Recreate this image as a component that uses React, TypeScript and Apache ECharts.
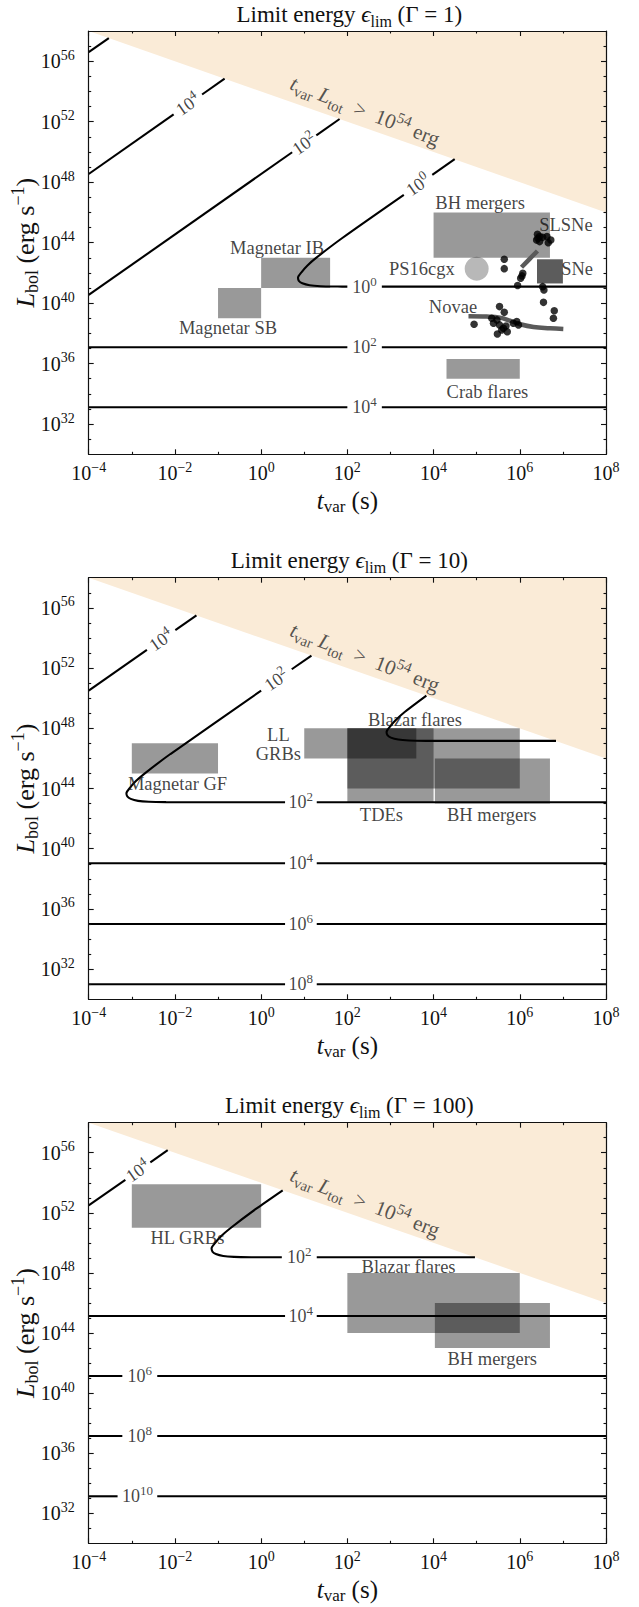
import React, { useEffect, useRef } from "react";
import * as echarts from "echarts";

const FONT = "Liberation Serif, DejaVu Serif, serif";
const INK = "#111111";

// ---- axis extents (log10 of t_var [s] and of L_bol [erg/s]) ----
const T_MIN = -4;
const T_MAX = 8;
const L_MIN = 30;
const L_MAX = 58;
const xMajor = [-4, -2, 0, 2, 4, 6, 8];
const xMinor = [-3, -1, 1, 3, 5, 7];
const yMajor = [32, 36, 40, 44, 48, 52, 56];
const yMinor = [31, 33, 34, 35, 37, 38, 39, 41, 42, 43, 45, 46, 47, 49, 50, 51, 53, 54, 55, 57];

const gammaValues = ["1", "10", "100"];

// forbidden region t_var * L_tot > 1e54 erg
const boundaryT = [-4, 8];
const boundaryL = [58, 46];
const boundaryTextPos = [2.41, 52.7];

// ---- panel 1 (Gamma = 1) ----
const p1Boxes = [
  [-1, 0, 39, 41], // Magnetar SB
  [0, 1.6, 41, 43], // Magnetar IB
  [4, 6.7, 43, 46], // BH mergers
  [6.4, 7, 41.3, 42.9], // SNe
  [4.3, 6, 35, 36.3], // Crab flares
];
const p1BoxDark = [false, false, false, true, false];
const p1Contours = [
  [[-4, 56.6], [-3.533, 57.53]],
  [[-4, 48.54], [-2.03, 52.48]],
  [[-1.37, 53.8], [-0.847, 54.85]],
  [[-4, 40.54], [0.72, 49.98]],
  [[1.28, 51.1], [1.82, 52.18]],
  [[3.97, 48.48], [4.49, 49.52]],
  [[3.31, 47.16], [1.875, 44.29], [1.275, 42.99], [1.075, 42.49], [0.935, 42.04], [0.855, 41.69], [0.875, 41.47], [0.955, 41.31], [1.125, 41.18], [1.375, 41.12], [1.775, 41.095], [2.0, 41.09]],
  [[2.8, 41.09], [8, 41.09]],
  [[-4, 37.08], [2.0, 37.08]],
  [[2.8, 37.08], [8, 37.08]],
  [[-4, 33.11], [2.0, 33.11]],
  [[2.8, 33.11], [8, 33.11]],
];
const p1ContourLabels: [number, number, string, boolean][] = [
  [-1.7, 53.14, "4", true],
  [1.0, 50.54, "2", true],
  [3.64, 47.82, "0", true],
  [2.4, 41.09, "0", false],
  [2.4, 37.08, "2", false],
  [2.4, 33.11, "4", false],
];
const p1Names: [string, number, number][] = [
  ["BH mergers", 5.08, 46.6],
  ["SLSNe", 7.07, 45.17],
  ["SNe", 7.33, 42.26],
  ["PS16cgx", 3.73, 42.24],
  ["Novae", 4.45, 39.77],
  ["Crab flares", 5.25, 34.12],
  ["Magnetar IB", 0.37, 43.63],
  ["Magnetar SB", -0.77, 38.34],
];
const ps16cgx = [5.0, 42.28];
const dotT = [6.41, 6.46, 6.39, 6.53, 6.63, 6.72, 6.66, 6.46, 6.42, 5.64, 5.64, 6.07, 6.05, 6.02, 5.95, 6.53, 6.56, 6.55, 6.8, 6.78, 5.53, 5.64, 5.35, 5.47, 5.39, 5.53, 5.62, 5.68, 5.58, 5.48, 5.71, 4.94, 5.85, 5.97, 5.93];
const dotL = [44.55, 44.4, 44.18, 44.35, 44.4, 44.18, 44.0, 44.07, 44.29, 42.9, 42.28, 41.97, 41.8, 41.64, 41.16, 41.09, 40.87, 40.05, 39.5, 39.0, 39.77, 39.39, 39.0, 38.89, 38.67, 38.56, 38.34, 38.49, 38.22, 37.96, 38.11, 38.6, 38.67, 38.56, 38.78];
const slsneTrackT = [6.04, 6.23, 6.41];
const slsneTrackL = [42.37, 42.93, 43.45];
const novaTrackT = [4.81, 5.23, 5.54, 5.77, 6.01, 6.32, 6.7, 7.01];
const novaTrackL = [39.13, 39.11, 39.04, 38.84, 38.6, 38.42, 38.34, 38.29];

// ---- panel 2 (Gamma = 10) ----
const p2Boxes = [
  [-3, -1, 45, 47], // Magnetar GF
  [1, 3.6, 46, 48], // LL GRBs
  [2, 4, 43.1, 48], // TDEs
  [2, 6, 44, 48], // Blazar flares
  [4.03, 6.7, 43, 46], // BH mergers
];
const p2BoxDark = [false, false, false, false, false];
const p2Contours = [
  [[-4, 50.5], [-2.65, 53.2]],
  [[-1.99, 54.52], [-1.5, 55.5]],
  [[1.167, 52.83], [0.71, 51.92]],
  [[0.0, 50.5], [-2.105, 46.29], [-2.705, 44.99], [-2.905, 44.49], [-3.045, 44.04], [-3.125, 43.69], [-3.105, 43.47], [-3.025, 43.31], [-2.855, 43.18], [-2.605, 43.12], [-2.205, 43.095], [-1.705, 43.09], [0.555, 43.09]],
  [[1.29, 43.09], [8, 43.09]],
  [[3.833, 50.17], [3.33, 49.08], [3.13, 48.56], [2.99, 48.11], [2.91, 47.76], [2.93, 47.54], [3.01, 47.38], [3.18, 47.25], [3.43, 47.19], [3.83, 47.165], [4.33, 47.16], [6.84, 47.16]],
  [[-4, 39.04], [0.555, 39.04]],
  [[1.29, 39.04], [8, 39.04]],
  [[-4, 35.0], [0.555, 35.0]],
  [[1.29, 35.0], [8, 35.0]],
  [[-4, 31.0], [0.555, 31.0]],
  [[1.29, 31.0], [8, 31.0]],
];
const p2ContourLabels: [number, number, string, boolean][] = [
  [-2.32, 53.86, "4", true],
  [0.355, 51.21, "2", true],
  [0.92, 43.09, "2", false],
  [0.92, 39.04, "4", false],
  [0.92, 35.0, "6", false],
  [0.92, 31.0, "8", false],
];
const p2Names: [string, number, number][] = [
  ["Magnetar GF", -1.94, 44.3],
  ["LL\nGRBs", 0.4, 46.95],
  ["Blazar flares", 3.57, 48.55],
  ["TDEs", 2.79, 42.24],
  ["BH mergers", 5.35, 42.24],
];

// ---- panel 3 (Gamma = 100) ----
const p3Boxes = [
  [-3, 0, 51, 53.9], // HL GRBs
  [2, 6, 44, 48], // Blazar flares
  [4.03, 6.7, 43, 46], // BH mergers
];
const p3BoxDark = [false, false, false];
const p3Contours = [
  [[-4, 52.5], [-3.15, 54.2]],
  [[-2.57, 55.36], [-2.167, 56.17]],
  [[0.5, 53.5], [-0.13, 52.24], [-0.73, 50.94], [-0.93, 50.44], [-1.07, 49.99], [-1.15, 49.64], [-1.13, 49.42], [-1.05, 49.26], [-0.88, 49.13], [-0.63, 49.07], [-0.23, 49.045], [0.27, 49.04], [0.48, 49.04]],
  [[1.29, 49.04], [4.96, 49.04]],
  [[-4, 45.13], [0.555, 45.13]],
  [[1.29, 45.13], [8, 45.13]],
  [[-4, 41.14], [-3.22, 41.14]],
  [[-2.41, 41.14], [8, 41.14]],
  [[-4, 37.14], [-3.22, 37.14]],
  [[-2.41, 37.14], [8, 37.14]],
  [[-4, 33.13], [-3.33, 33.13]],
  [[-2.41, 33.13], [8, 33.13]],
];
const p3ContourLabels: [number, number, string, boolean][] = [
  [-2.86, 54.78, "4", true],
  [0.885, 49.04, "2", false],
  [0.92, 45.13, "4", false],
  [-2.815, 41.14, "6", false],
  [-2.815, 37.14, "8", false],
  [-2.87, 33.13, "10", false],
];
const p3Names: [string, number, number][] = [
  ["HL GRBs", -1.71, 50.3],
  ["Blazar flares", 3.42, 48.41],
  ["BH mergers", 5.36, 42.25],
];

// ---- layout ----
const LEFT = 88.7;
const WIDTH = 517.3;
const LAYOUT = [
  { top: 31, height: 423.3 },
  { top: 577.7, height: 421.6 },
  { top: 1122.7, height: 420.6 },
];

const expStr = (v: number) => (v < 0 ? "\u2212" + Math.abs(v) : String(v));

const tickRich = {
  b: { fontFamily: FONT, fontSize: 20, lineHeight: 26, color: INK },
  s: { fontFamily: FONT, fontSize: 14, lineHeight: 14, verticalAlign: "top", color: INK },
};
const clRich = {
  b: { fontFamily: FONT, fontSize: 18, lineHeight: 24, color: INK },
  s: { fontFamily: FONT, fontSize: 13, lineHeight: 13, verticalAlign: "top", color: INK },
};
const boundaryRich = {
  i: { fontFamily: FONT, fontSize: 21, fontStyle: "italic", lineHeight: 28, color: "#2a2a2a" },
  n: { fontFamily: FONT, fontSize: 21, lineHeight: 28, color: "#2a2a2a" },
  sb: { fontFamily: FONT, fontSize: 15, lineHeight: 15, verticalAlign: "bottom", color: "#2a2a2a" },
  sp: { fontFamily: FONT, fontSize: 15, lineHeight: 15, verticalAlign: "top", color: "#2a2a2a" },
};

function buildAxes(g: number) {
  const base = {
    gridIndex: g,
    type: "value",
    splitLine: { show: false },
    minorSplitLine: { show: false },
    z: 10,
  };
  const lineOn = { show: true, onZero: false, lineStyle: { color: INK, width: 1.2 } };
  const lineOff = { show: false, onZero: false };
  const tick = (vals: number[], len: number) => ({
    show: true,
    inside: true,
    length: len,
    customValues: vals,
    lineStyle: { color: INK, width: 1.1 },
  });
  const xs = [
    {
      ...base, min: T_MIN, max: T_MAX, position: "bottom", axisLine: lineOn, axisTick: tick(xMajor, 5),
      axisLabel: {
        show: true, customValues: xMajor, margin: 6, rich: tickRich,
        formatter: (v: number) => `{b|10}{s|${expStr(Math.round(v))}}`,
      },
    },
    { ...base, min: T_MIN, max: T_MAX, position: "bottom", axisLine: lineOff, axisTick: tick(xMinor, 2.5), axisLabel: { show: false } },
    { ...base, min: T_MIN, max: T_MAX, position: "top", axisLine: lineOn, axisTick: tick(xMajor, 5), axisLabel: { show: false } },
    { ...base, min: T_MIN, max: T_MAX, position: "top", axisLine: lineOff, axisTick: tick(xMinor, 2.5), axisLabel: { show: false } },
  ];
  const ys = [
    {
      ...base, min: L_MIN, max: L_MAX, position: "left", axisLine: lineOn, axisTick: tick(yMajor, 5),
      axisLabel: {
        show: true, customValues: yMajor, margin: 14, rich: tickRich,
        formatter: (v: number) => `{b|10}{s|${expStr(Math.round(v))}}`,
      },
    },
    { ...base, min: L_MIN, max: L_MAX, position: "left", axisLine: lineOff, axisTick: tick(yMinor, 2.5), axisLabel: { show: false } },
    { ...base, min: L_MIN, max: L_MAX, position: "right", axisLine: lineOn, axisTick: tick(yMajor, 5), axisLabel: { show: false } },
    { ...base, min: L_MIN, max: L_MAX, position: "right", axisLine: lineOff, axisTick: tick(yMinor, 2.5), axisLabel: { show: false } },
  ];
  return { xs, ys };
}

function buildSeries(g: number, boxes: number[][], dark: boolean[], contours: number[][][], clabels: [number, number, string, boolean][], names: [string, number, number][]) {
  const idx = { xAxisIndex: g * 4, yAxisIndex: g * 4 };
  const lay = LAYOUT[g];
  const pxT = WIDTH / (T_MAX - T_MIN);
  const pxL = lay.height / (L_MAX - L_MIN);
  const diagAngle = (Math.atan((2 * pxL) / pxT) * 180) / Math.PI;
  const boundaryAngle = (Math.atan(pxL / pxT) * 180) / Math.PI + 2;
  const series: any[] = [];

  series.push({
    type: "line", ...idx, data: boundaryT.map((t, i) => [t, boundaryL[i]]), symbol: "none",
    lineStyle: { width: 0, opacity: 0 }, areaStyle: { origin: "end", color: "#faebd7", opacity: 1 },
    silent: true, z: 1,
  });

  series.push({
    type: "custom", ...idx, silent: true, z: 2,
    data: boxes.map((b, i) => [b[0], b[1], b[2], b[3], dark[i] ? 1 : 0]),
    encode: { x: [0, 1], y: [2, 3] },
    renderItem: (params: any, api: any) => {
      const a = api.coord([api.value(0), api.value(3)]);
      const b = api.coord([api.value(1), api.value(2)]);
      return {
        type: "rect",
        shape: { x: a[0], y: a[1], width: b[0] - a[0], height: b[1] - a[1] },
        style: { fill: api.value(4) ? "rgba(0,0,0,0.64)" : "rgba(0,0,0,0.4)" },
      };
    },
  });

  contours.forEach((seg) => {
    series.push({
      type: "line", ...idx, data: seg, symbol: "none", showSymbol: false,
      smooth: seg.length > 3 ? 0.25 : false,
      lineStyle: { color: "#000", width: 2.1 }, silent: true, z: 3,
    });
  });

  series.push({
    type: "scatter", ...idx, symbolSize: 1, itemStyle: { color: "rgba(0,0,0,0)" }, silent: true, z: 6,
    data: clabels.map((c) => ({
      value: [c[0], c[1]], name: `{b|10}{s|${c[2]}}`,
      label: { rotate: c[3] ? diagAngle : 0 },
    })),
    label: { show: true, position: "inside", rich: clRich, formatter: (p: any) => p.name },
  });

  series.push({
    type: "scatter", ...idx, symbolSize: 1, itemStyle: { color: "rgba(0,0,0,0)" }, silent: true, z: 6,
    data: [{ value: boundaryTextPos, name: "t" }],
    label: {
      show: true, position: "inside", rotate: -boundaryAngle, rich: boundaryRich,
      formatter: () => "{i|t}{sb|var}{i| L}{sb|tot}{n|  >  10}{sp|54}{n| erg}",
    },
  });

  series.push({
    type: "scatter", ...idx, symbolSize: 1, itemStyle: { color: "rgba(0,0,0,0)" }, silent: true, z: 7,
    data: names.map((n) => ({ value: [n[1], n[2]], name: n[0] })),
    label: {
      show: true, position: "inside", fontFamily: FONT, fontSize: 18.5, lineHeight: 19, color: INK, align: "center",
      formatter: (p: any) => p.name,
    },
  });

  return series;
}

function panel1Extras() {
  const idx = { xAxisIndex: 0, yAxisIndex: 0 };
  return [
    {
      type: "scatter", ...idx, data: [ps16cgx], symbolSize: 24, silent: true, z: 4,
      itemStyle: { color: "rgba(0,0,0,0.35)" },
    },
    {
      type: "line", ...idx, data: slsneTrackT.map((t, i) => [t, slsneTrackL[i]]), symbol: "none", smooth: 0.4,
      lineStyle: { color: "#5a5a5a", width: 4.5 }, silent: true, z: 4,
    },
    {
      type: "line", ...idx, data: novaTrackT.map((t, i) => [t, novaTrackL[i]]), symbol: "none", smooth: 0.4,
      lineStyle: { color: "#5a5a5a", width: 4.5 }, silent: true, z: 4,
    },
    {
      type: "scatter", ...idx, data: dotT.map((t, i) => [t, dotL[i]]), symbolSize: 7.5, silent: true, z: 5,
      itemStyle: { color: "#000" },
    },
  ];
}

function buildOption() {
  const grids: any[] = [];
  const xAxes: any[] = [];
  const yAxes: any[] = [];
  const graphic: any[] = [];
  LAYOUT.forEach((lay, g) => {
    grids.push({ left: LEFT, top: lay.top, width: WIDTH, height: lay.height, containLabel: false });
    const { xs, ys } = buildAxes(g);
    xAxes.push(...xs);
    yAxes.push(...ys);
    const cx = LEFT + WIDTH / 2;
    graphic.push({
      type: "text", x: cx + 2, y: lay.top - 17, z: 100,
      style: {
        text: `{n|Limit energy }{i|\u03F5}{sb|lim}{n| (\u0393 = ${gammaValues[g]})}`,
        align: "center", verticalAlign: "middle",
        rich: {
          n: { fontFamily: FONT, fontSize: 23, lineHeight: 30, fill: INK },
          i: { fontFamily: FONT, fontSize: 23, fontStyle: "italic", lineHeight: 30, fill: INK },
          sb: { fontFamily: FONT, fontSize: 16, lineHeight: 16, verticalAlign: "bottom", fill: INK },
        },
      },
    });
    graphic.push({
      type: "text", x: cx, y: lay.top + lay.height + 46, z: 100,
      style: {
        text: "{i|t}{sb|var}{n| (s)}",
        align: "center", verticalAlign: "middle",
        rich: {
          n: { fontFamily: FONT, fontSize: 25, lineHeight: 30, fill: INK },
          i: { fontFamily: FONT, fontSize: 25, fontStyle: "italic", lineHeight: 30, fill: INK },
          sb: { fontFamily: FONT, fontSize: 17, lineHeight: 17, verticalAlign: "bottom", fill: INK },
        },
      },
    });
    graphic.push({
      type: "text", x: 25, y: lay.top + lay.height / 2, rotation: Math.PI / 2, z: 100,
      style: {
        text: "{i|L}{sb|bol}{n| (erg s}{sp|\u22121}{n|)}",
        align: "center", verticalAlign: "middle",
        rich: {
          n: { fontFamily: FONT, fontSize: 26, lineHeight: 32, fill: INK },
          i: { fontFamily: FONT, fontSize: 26, fontStyle: "italic", lineHeight: 32, fill: INK },
          sb: { fontFamily: FONT, fontSize: 18, lineHeight: 18, verticalAlign: "bottom", fill: INK },
          sp: { fontFamily: FONT, fontSize: 18, lineHeight: 18, verticalAlign: "top", fill: INK },
        },
      },
    });
  });

  const series = [
    ...buildSeries(0, p1Boxes, p1BoxDark, p1Contours, p1ContourLabels, p1Names),
    ...panel1Extras(),
    ...buildSeries(1, p2Boxes, p2BoxDark, p2Contours, p2ContourLabels, p2Names),
    ...buildSeries(2, p3Boxes, p3BoxDark, p3Contours, p3ContourLabels, p3Names),
  ];

  return {
    animation: false,
    backgroundColor: "#ffffff",
    textStyle: { fontFamily: FONT },
    grid: grids,
    xAxis: xAxes,
    yAxis: yAxes,
    series,
    graphic,
  };
}

export default function App() {
  const ref = useRef<HTMLDivElement>(null);
  useEffect(() => {
    const chart = echarts.init(ref.current as HTMLDivElement, null, { renderer: "svg" });
    chart.setOption(buildOption() as any);
    return () => chart.dispose();
  }, []);
  return (
    <div
      ref={ref}
      style={{ position: "absolute", left: 0, top: 0, width: 639, height: 1607, background: "#fff" }}
    />
  );
}
